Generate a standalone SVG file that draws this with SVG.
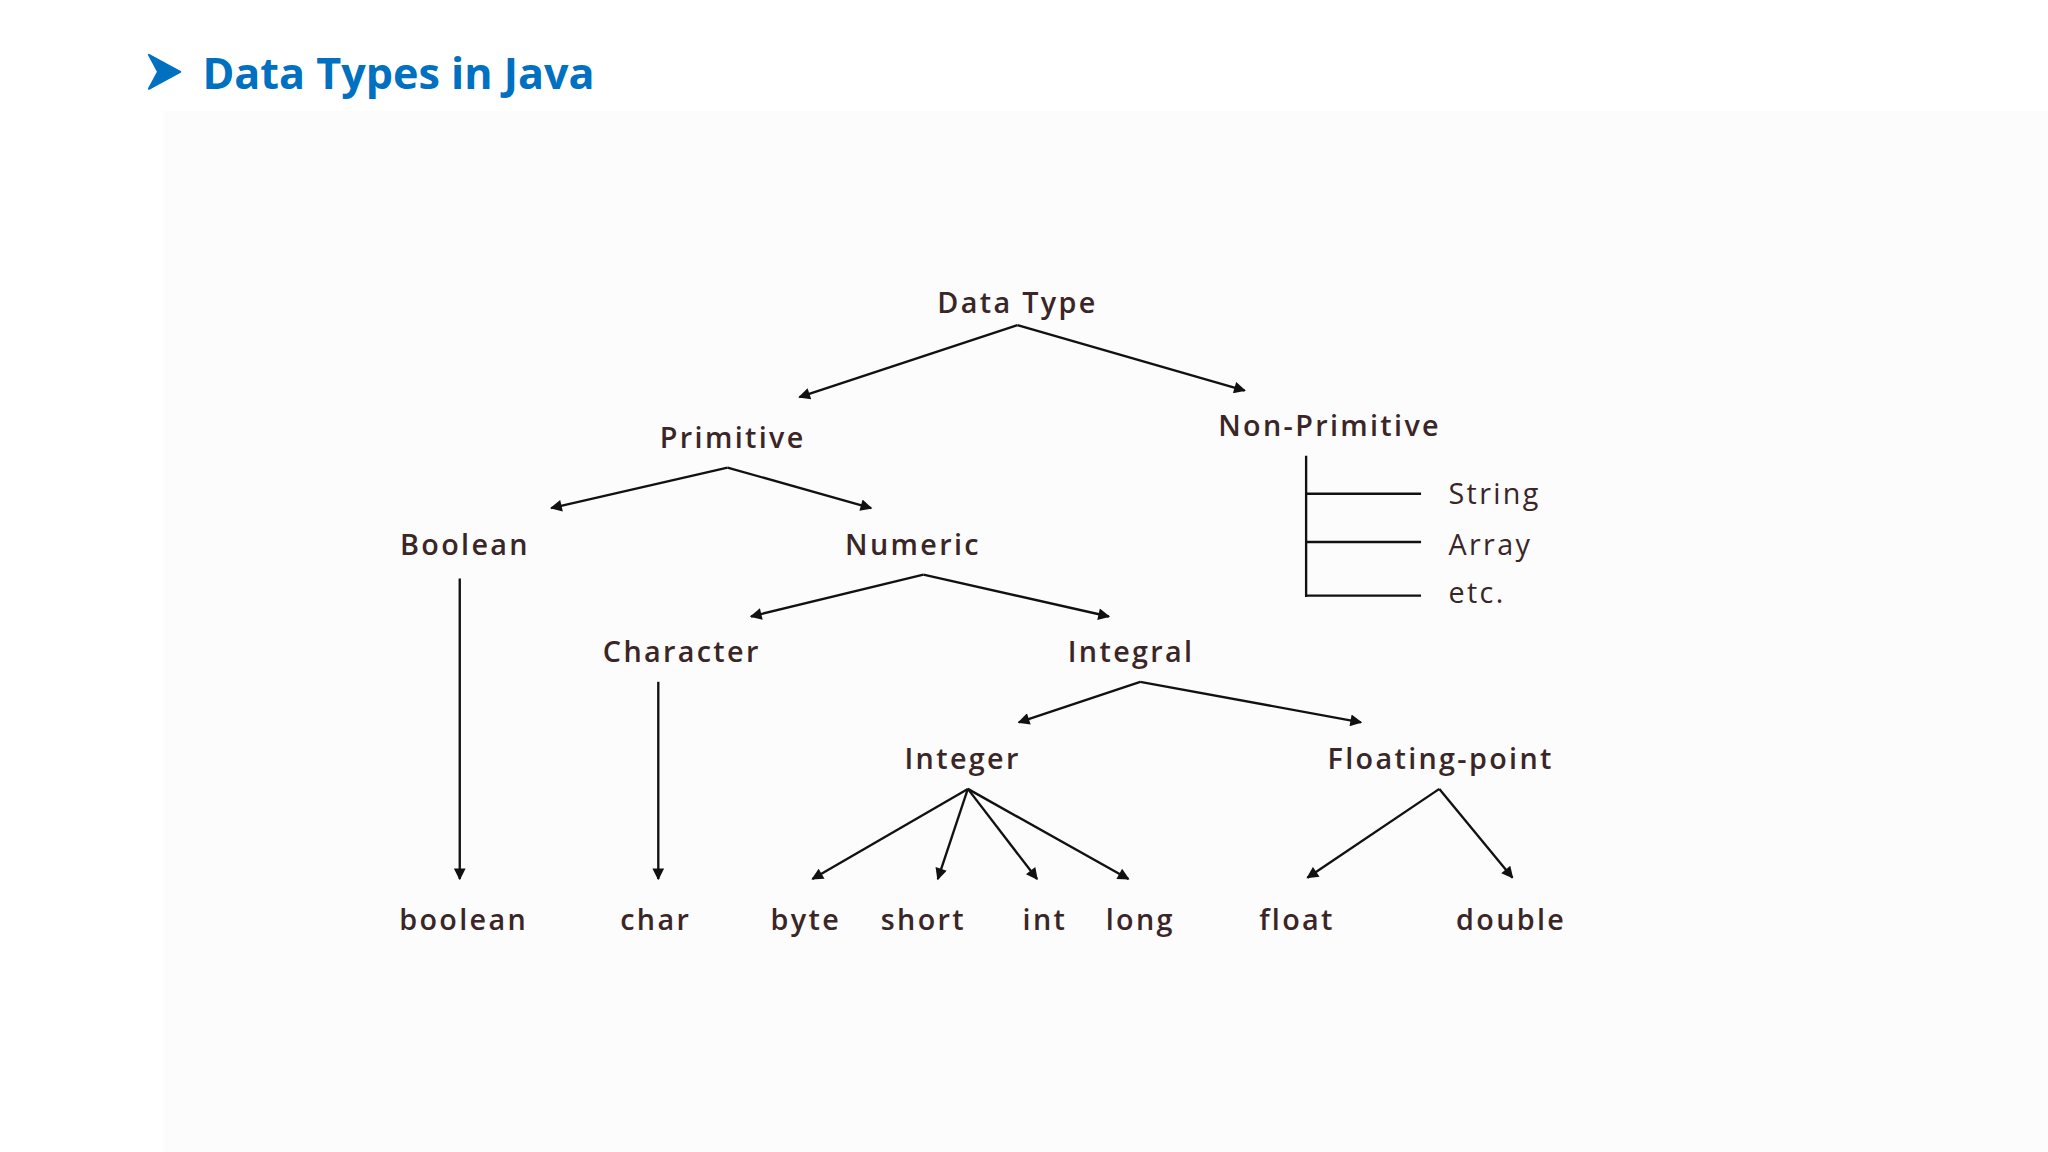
<svg xmlns="http://www.w3.org/2000/svg" width="2048" height="1152" viewBox="0 0 2048 1152">
<style>
.t{font-family:"Open Sans","Liberation Sans",sans-serif;font-size:22px;font-weight:600;fill:#3a2626;text-anchor:middle;letter-spacing:1.8px}
.n{font-family:"Open Sans","Liberation Sans",sans-serif;font-size:22px;fill:#3a2626;letter-spacing:1.8px}
.c{stroke:#111;stroke-width:1.8;fill:none}
.a{marker-end:url(#ah)}
</style>
<defs><marker id="ah" viewBox="0 0 10 10" refX="9" refY="5" markerWidth="11" markerHeight="9" orient="auto" markerUnits="userSpaceOnUse"><path d="M0,0L10,5L0,10z" fill="#111"/></marker></defs>
<rect width="2048" height="1152" fill="#fff"/>
<g transform="scale(1.30612)">
<rect x="125" y="85" width="1443" height="797" fill="#fcfcfc"/>
<g id="title"><path d="M114,42L138,55L114,68L121,55Z" fill="#0070C0" stroke="#0070C0" stroke-width="1.5" stroke-linejoin="round"/>
<text x="155" y="68" font-family="'Open Sans','Liberation Sans',sans-serif" font-size="33" font-weight="bold" fill="#0070C0">Data Types in Java</text></g>
<g id="connectors">
<g class="c">
<path class="a" d="M779,249L612,304"/><path class="a" d="M779,249L953,299"/>
<path class="a" d="M557,358L422,389"/><path class="a" d="M557,358L667,389"/>
<path class="a" d="M707,440L575,472"/><path class="a" d="M707,440L849,472"/>
<path class="a" d="M873,522L780,553"/><path class="a" d="M873,522L1042,553"/>
<path class="a" d="M741,604L622,673"/><path class="a" d="M741,604L718,673"/><path class="a" d="M741,604L794,673"/><path class="a" d="M741,604L864,673"/>
<path class="a" d="M1102,604L1001,672"/><path class="a" d="M1102,604L1158,672"/>
<path class="a" d="M352,443L352,673"/><path class="a" d="M504,522L504,673"/>
<path d="M1000,349L1000,457M1000,378L1088,378M1000,415L1088,415M1000,456L1088,456"/>
</g></g>
<g id="datatype"><text class="t" x="779" y="240">Data Type</text></g>
<g id="primitive"><text class="t" x="561" y="343">Primitive</text></g>
<g id="nonprimitive"><text class="t" x="1018" y="334">Non-Primitive</text></g>
<g id="boolean"><text class="t" x="356" y="425">Boolean</text></g>
<g id="numeric"><text class="t" x="699" y="425">Numeric</text></g>
<g id="character"><text class="t" x="522" y="507">Character</text></g>
<g id="integral"><text class="t" x="866" y="507">Integral</text></g>
<g id="integer"><text class="t" x="737" y="589">Integer</text></g>
<g id="floating"><text class="t" x="1103" y="589">Floating-point</text></g>
<g id="l-boolean"><text class="t" x="355" y="712">boolean</text></g>
<g id="l-char"><text class="t" x="502" y="712">char</text></g>
<g id="l-byte"><text class="t" x="617" y="712">byte</text></g>
<g id="l-short"><text class="t" x="707" y="712">short</text></g>
<g id="l-int"><text class="t" x="800" y="712">int</text></g>
<g id="l-long"><text class="t" x="873" y="712">long</text></g>
<g id="l-float"><text class="t" x="993" y="712">float</text></g>
<g id="l-double"><text class="t" x="1157" y="712">double</text></g>
<g id="l-string"><text class="n" x="1109" y="386">String</text></g>
<g id="l-array"><text class="n" x="1109" y="425">Array</text></g>
<g id="l-etc"><text class="n" x="1109" y="462">etc.</text></g>
</g>
</svg>
